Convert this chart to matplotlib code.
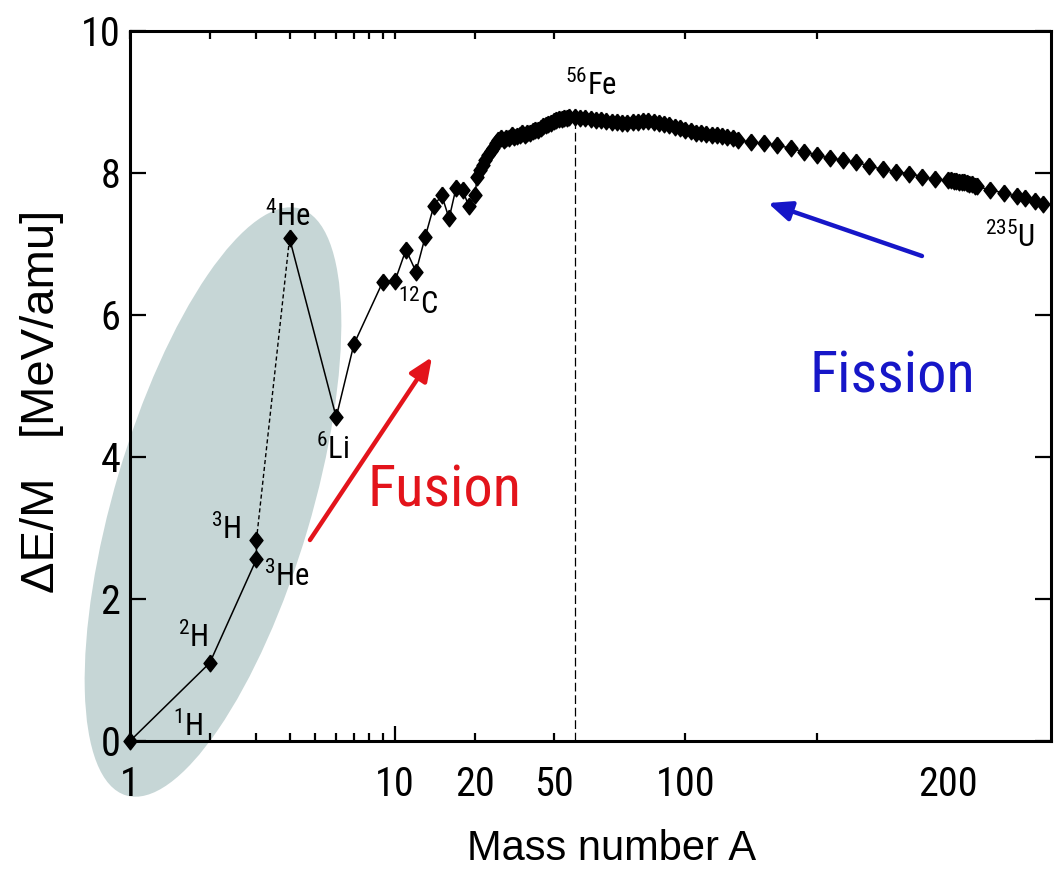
import numpy as np
import matplotlib
matplotlib.use("Agg")
import matplotlib.pyplot as plt
from matplotlib import font_manager
from matplotlib.patches import Ellipse

# binding energy per nucleon
light_A = [1, 2, 3, 3]          # 1H, 2H, 3He, 3H
light_E = [0.0, 1.10, 2.56, 2.83]

low_A = [4, 6, 7, 9, 10, 11, 12, 13, 14, 15, 16, 17, 18, 19, 20]
low_E = [7.08, 4.56, 5.59, 6.47, 6.48, 6.92, 6.61, 7.10, 7.53, 7.69, 7.36, 7.79, 7.76, 7.53, 7.69]

rise_A = list(range(21, 57))
rise_E = [7.95, 8.04, 8.11, 8.19, 8.25, 8.31, 8.35, 8.42, 8.46, 8.49, 8.47, 8.50,
          8.50, 8.53, 8.51, 8.52, 8.54, 8.56, 8.54, 8.56, 8.57, 8.59, 8.60, 8.61,
          8.63, 8.66, 8.67, 8.69, 8.71, 8.73, 8.74, 8.76, 8.76, 8.77, 8.78, 8.79]

plateau_A = list(range(58, 119, 2))
plateau_E = [8.79, 8.78, 8.78, 8.76, 8.75, 8.74, 8.73, 8.72, 8.72, 8.71, 8.71, 8.72,
             8.72, 8.73, 8.73, 8.72, 8.71, 8.69, 8.67, 8.65, 8.63, 8.61, 8.59, 8.57,
             8.56, 8.55, 8.54, 8.53, 8.52, 8.51, 8.50]

heavy_A = list(range(120, 196, 5))
heavy_E = [8.47, 8.43, 8.42, 8.39, 8.35, 8.30, 8.25, 8.21, 8.18, 8.15, 8.10, 8.05,
           8.02, 7.99, 7.95, 7.91]

dense_A = list(range(200, 212))
dense_E = [7.90, 7.90, 7.89, 7.89, 7.88, 7.87, 7.87, 7.86, 7.85, 7.84, 7.82, 7.81]

tail_A = [216, 221, 226, 229, 233, 236]
tail_E = [7.76, 7.72, 7.67, 7.65, 7.61, 7.57]

fe_A = 58          # where the dashed 56Fe line sits in the picture
fe_top = 8.72

xticks_major = [1, 10, 20, 50, 100, 200]
xticks_minor = [2, 3, 4, 5, 6, 7, 8, 9, 150]
yticks = [0, 2, 4, 6, 8, 10]

# nuclide labels: (A, E, text, offset in pixels)
labels = [
    (1, 0.0, r'$^{1}$H', (58, 15)),
    (2, 1.10, r'$^{2}$H', (-17, 26)),
    (3, 2.83, r'$^{3}$H', (-30, 11)),
    (3, 2.56, r'$^{3}$He', (30, -17)),
    (4, 7.08, r'$^{4}$He', (-2, 22)),
    (6, 4.56, r'$^{6}$Li', (-4, -32)),
    (12, 6.61, r'$^{12}$C', (2, -33)),
    (58, 8.78, r'$^{56}$Fe', (16, 32)),
    (236, 7.57, r'$^{235}$U', (-33, -34)),
]

names = {f.name for f in font_manager.fontManager.ttflist}
NARROW = 'Liberation Sans'
for cand in ['Liberation Sans Narrow', 'Nimbus Sans Narrow', 'Arial Narrow',
             'Roboto Condensed', 'Archivo Narrow']:
    if cand in names:
        NARROW = cand
        break
REG = 'Liberation Sans'

plt.rcParams['font.family'] = [NARROW, 'DejaVu Sans']
plt.rcParams['mathtext.fontset'] = 'custom'
plt.rcParams['mathtext.rm'] = NARROW
plt.rcParams['mathtext.it'] = NARROW

tick_fs, lab_fs, big_fs = 29, 22, 42

# x scale: logarithmic up to A=20, linear above
K = 0.009929
L20 = np.log10(20)


def fwd(a):
    a = np.asarray(a, dtype=float)
    return np.where(a <= 20, np.log10(np.clip(a, 1e-6, None)), L20 + (a - 20) * K)


def inv(u):
    u = np.asarray(u, dtype=float)
    return np.where(u <= L20, 10 ** np.clip(u, -6, L20), 20 + (u - L20) / K)


fig = plt.figure(figsize=(10.59, 8.69), dpi=100)
ax = fig.add_axes([130 / 1059, 1 - 741 / 869, 921 / 1059, 710 / 869])
ax.set_facecolor('none')
ax.set_xscale('function', functions=(fwd, inv))
ax.set_xlim(1, 239)
ax.set_ylim(0, 10)

# shaded ellipse round the light nuclei
ell = Ellipse((2.13, 3.67), width=1.97, height=6.12, angle=-16.5,
              transform=fig.dpi_scale_trans, facecolor='#c6d6d6',
              edgecolor='none', zorder=-1)
fig.add_artist(ell)

mk = [(0, 1), (0.78, 0), (0, -1), (-0.78, 0), (0, 1)]
style = dict(color='black', lw=1.1, marker=mk, ms=12, mfc='black', mec='black',
             clip_on=False)

ax.plot(light_A, light_E, **style)
ax.plot([light_A[-1], low_A[0]], [light_E[-1], low_E[0]], color='black', lw=1.0,
        ls=(0, (3, 2)))
rest_A = low_A + rise_A + plateau_A + heavy_A + dense_A + tail_A
rest_E = low_E + rise_E + plateau_E + heavy_E + dense_E + tail_E
ax.plot(rest_A, rest_E, **style)

ax.vlines(fe_A, 0, fe_top, colors='black', lw=0.9, linestyles=(0, (7, 3)))

for a, e, txt, off in labels:
    ax.annotate(txt, xy=(a, e), xytext=off, textcoords='offset pixels',
                ha='center', va='center', fontsize=lab_fs)

# arrows and captions
ax.annotate('', xy=(0.3279, 0.5408), xytext=(0.1954, 0.2831),
            xycoords='axes fraction', textcoords='axes fraction',
            arrowprops=dict(arrowstyle='-|>,head_length=1.4,head_width=0.6',
                            color='#e3141b', lw=3.2, shrinkA=0, shrinkB=0))
ax.annotate('', xy=(0.6927, 0.7577), xytext=(0.8599, 0.6831),
            xycoords='axes fraction', textcoords='axes fraction',
            arrowprops=dict(arrowstyle='-|>,head_length=1.4,head_width=0.6',
                            color='#1616c8', lw=3.2, shrinkA=0, shrinkB=0))
ax.text(0.342, 0.3296, 'Fusion', transform=ax.transAxes, color='#e3141b',
        fontsize=big_fs, ha='center', va='baseline')
ax.text(0.8279, 0.4915, 'Fission', transform=ax.transAxes, color='#1616c8',
        fontsize=big_fs, ha='center', va='baseline')

# axes styling
for s in ax.spines.values():
    s.set_linewidth(2.2)
ax.set_xticks(xticks_major)
ax.set_xticklabels([str(v) for v in xticks_major])
ax.set_xticks(xticks_minor, minor=True)
ax.set_yticks(yticks)
ax.tick_params(axis='both', which='both', direction='in', top=True, right=True,
               labelsize=tick_fs, width=1.6)
ax.tick_params(axis='x', which='both', length=6, pad=17)
ax.tick_params(axis='y', which='major', length=11.5, pad=7)
xt = ax.xaxis.get_major_ticks()
xt[1].tick1line.set_markersize(11)
xt[-1].tick1line.set_visible(False)
xt[-1].tick2line.set_visible(False)

ax.set_xlabel('Mass number A', fontsize=30, family=REG, va='center')
ax.xaxis.set_label_coords((612 - 130) / 921, (741 - 849) / 710)
ax.set_ylabel('ΔE/M   [MeV/amu]', fontsize=34, family=REG, va='center', ha='center')
ax.yaxis.set_label_coords((42 - 130) / 921, (741 - 401) / 710)

fig.savefig('out.png', dpi=100)
